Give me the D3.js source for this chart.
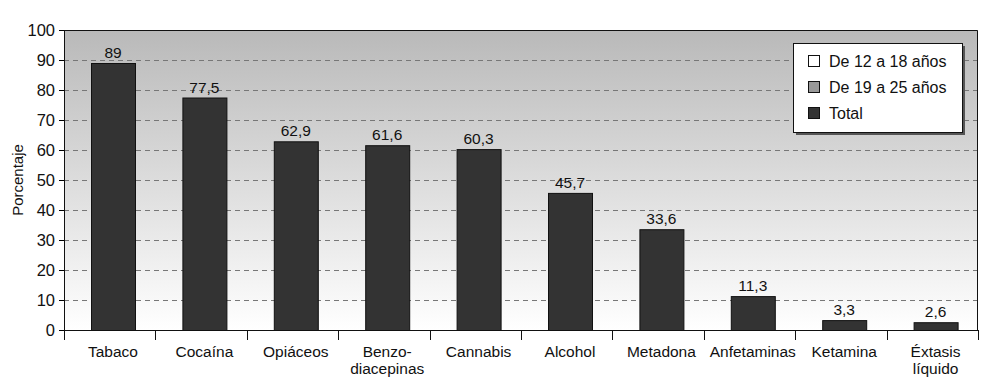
<!DOCTYPE html>
<html>
<head>
<meta charset="utf-8">
<script src="https://cdn.jsdelivr.net/npm/d3@7"></script>
<style>
 body { margin: 0; background: #fff; }
 text { font-family: "Liberation Sans", Arial, sans-serif; fill: #111; }
</style>
</head>
<body>
<div id="chart"></div>
<script>
var categories = ['Tabaco', 'Cocaína', 'Opiáceos', 'Benzo-|diacepinas', 'Cannabis', 'Alcohol', 'Metadona', 'Anfetaminas', 'Ketamina', 'Éxtasis|líquido'];
var totals = [89, 77.5, 62.9, 61.6, 60.3, 45.7, 33.6, 11.3, 3.3, 2.6];
var legendNames = ['De 12 a 18 años', 'De 19 a 25 años', 'Total'];
var legendColors = ['#ffffff', '#999999', '#333333'];
var yTicks = d3.range(0, 101, 10);

(() => {
	var W = 1000, H = 386;
	var margin = { top: 30, right: 22, bottom: 56, left: 64 },
		width = W - margin.left - margin.right,
		height = H - margin.top - margin.bottom;

	var svg = d3.select('#chart').append('svg')
		.attr('width', W).attr('height', H);

	var defs = svg.append('defs');
	var grad = defs.append('linearGradient').attr('id', 'bg')
		.attr('x1', 0).attr('y1', 0).attr('x2', 0).attr('y2', 1);
	grad.append('stop').attr('offset', '0%').attr('stop-color', '#b9b9b9');
	grad.append('stop').attr('offset', '100%').attr('stop-color', '#ffffff');

	var g = svg.append('g').attr('transform', 'translate(' + margin.left + ',' + margin.top + ')');

	var x = d3.scaleBand().domain(categories).range([0, width]).padding(0);
	var y = d3.scaleLinear().domain([0, 100]).range([height, 0]);

	g.append('rect').attr('width', width).attr('height', height).attr('fill', 'url(#bg)');

	// dashed grid
	g.selectAll('.grid').data(yTicks.filter(d => d > 0 && d < 100)).enter()
		.append('line')
		.attr('x1', 0).attr('x2', width)
		.attr('y1', d => Math.round(y(d)) + 0.5).attr('y2', d => Math.round(y(d)) + 0.5)
		.attr('stroke', '#777').attr('stroke-dasharray', '5,4');

	// frame top / right
	g.append('path')
		.attr('d', 'M0,0.5H' + (width - 0.5) + 'V' + height)
		.attr('fill', 'none').attr('stroke', '#111');

	var bw = 44, off = 27;
	g.selectAll('.bar').data(totals).enter().append('rect')
		.attr('x', (d, i) => x(categories[i]) + off + 0.5)
		.attr('y', d => y(d) + 0.5)
		.attr('width', bw)
		.attr('height', d => height - y(d))
		.attr('fill', '#333').attr('stroke', '#111');

	g.selectAll('.val').data(totals).enter().append('text')
		.attr('x', (d, i) => x(categories[i]) + off + bw / 2)
		.attr('y', d => y(d) - 5)
		.attr('text-anchor', 'middle').attr('font-size', 15.5)
		.text(d => String(d).replace('.', ','));

	// y axis
	var yAxis = g.append('g').call(d3.axisLeft(y).tickValues(yTicks).tickSize(5).tickPadding(4));
	yAxis.select('.domain').attr('stroke', '#111');
	yAxis.selectAll('text').attr('font-size', 16.5).attr('fill', '#111');

	// x axis
	var xAxis = g.append('g').attr('transform', 'translate(0,' + height + ')');
	xAxis.append('line').attr('x1', 0).attr('x2', width).attr('y1', 0.5).attr('y2', 0.5).attr('stroke', '#111');
	xAxis.selectAll('.tk').data(categories.concat(['end'])).enter().append('line')
		.attr('x1', (d, i) => Math.round(i * x.bandwidth()) + 0.5)
		.attr('x2', (d, i) => Math.round(i * x.bandwidth()) + 0.5)
		.attr('y1', 0).attr('y2', 10).attr('stroke', '#111');
	var lbl = xAxis.selectAll('.lbl').data(categories).enter().append('text')
		.attr('x', d => x(d) + off + bw / 2)
		.attr('y', 27)
		.attr('text-anchor', 'middle').attr('font-size', 15.5);
	lbl.each(function(d) {
		var parts = d.split('|');
		var t = d3.select(this);
		parts.forEach((p, k) => {
			t.append('tspan').attr('x', t.attr('x')).attr('dy', k === 0 ? 0 : 17).text(p);
		});
	});

	// y title
	svg.append('text')
		.attr('transform', 'translate(23,' + (margin.top + height / 2) + ') rotate(-90)')
		.attr('text-anchor', 'middle').attr('font-size', 15)
		.text('Porcentaje');

	// legend
	var lg = svg.append('g').attr('transform', 'translate(793,43)');
	lg.append('rect').attr('x', 3).attr('y', 3).attr('width', 169).attr('height', 89).attr('fill', '#555');
	lg.append('rect').attr('x', 0.5).attr('y', 0.5).attr('width', 169).attr('height', 89)
		.attr('fill', '#fff').attr('stroke', '#111');
	legendNames.forEach((n, i) => {
		var row = lg.append('g').attr('transform', 'translate(15,' + (18 + i * 26) + ')');
		row.append('rect').attr('x', 0.5).attr('y', -5.5).attr('width', 11).attr('height', 11)
			.attr('fill', legendColors[i]).attr('stroke', '#111');
		row.append('text').attr('x', 21).attr('y', 5.5).attr('font-size', 16).text(n);
	});
})();
</script>
</body>
</html>
